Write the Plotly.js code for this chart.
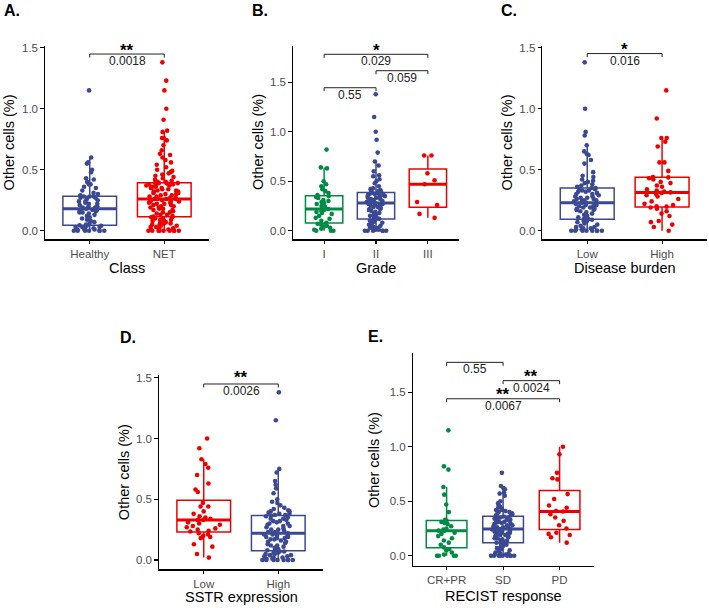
<!DOCTYPE html>
<html>
<head>
<meta charset="utf-8">
<script src="https://cdn.plot.ly/plotly-3.0.1.min.js"></script>
<style>
  html, body { margin: 0; padding: 0; background: #fff; }
  #chart { width: 709px; height: 608px; }
</style>
</head>
<body>
<div id="chart"></div>
<script>
// ---- category labels ----
const classCats = ['Healthy', 'NET'];
const gradeCats = ['I', 'II', 'III'];
const burdenCats = ['Low', 'High'];
const sstrCats = ['Low', 'High'];
const recistCats = ['CR+PR', 'SD', 'PD'];

// ---- y tick labels ----
const yTickVals = [0, 0.5, 1.0, 1.5];
const yTickText = ['0.0', '0.5', '1.0', '1.5'];

// ---- Other cells (%) per group ----
const healthy = [0,0,0,0,0,0,0,0.01,0.01,0.01,0.02,0.02,0.03,0.03,0.03,0.04,0.04,0.045,
  0.05,0.06,0.07,0.08,0.09,0.10,0.11,0.12,0.13,0.14,0.15,0.15,0.16,0.16,0.17,0.17,0.18,
  0.19,0.19,0.20,0.20,0.21,0.22,0.22,0.23,0.24,0.24,0.25,0.26,0.27,0.27,0.28,0.28,0.28,
  0.29,0.30,0.31,0.33,0.35,0.36,0.38,0.38,0.40,0.42,0.43,0.48,0.50,0.55,0.56,0.60,1.15];
const net = [0,0,0,0,0,0,0,0,0,0.01,0.01,0.02,0.02,0.03,0.03,0.04,0.04,0.05,0.05,0.06,0.06,
  0.07,0.07,0.08,0.08,0.09,0.09,0.10,0.10,0.11,0.11,0.115,
  0.12,0.13,0.13,0.14,0.15,0.15,0.16,0.17,0.17,0.18,0.18,0.19,0.19,0.20,0.20,0.21,0.21,
  0.22,0.22,0.23,0.23,0.24,0.24,0.24,0.25,0.25,0.25,0.26,0.26,0.26,0.26,
  0.27,0.27,0.28,0.28,0.29,0.29,0.30,0.30,0.31,0.31,0.32,0.32,0.33,0.33,0.34,0.34,0.35,
  0.35,0.35,0.36,0.36,0.37,0.37,0.37,0.38,0.38,0.38,0.39,0.39,0.39,0.39,
  0.40,0.40,0.41,0.42,0.43,0.44,0.45,0.46,0.47,0.48,0.49,0.50,0.52,0.54,0.56,0.58,0.60,
  0.62,0.63,0.66,0.70,0.74,0.76,0.76,0.81,0.82,0.91,1.00,1.15,1.23,1.38];

const gradeI = [0,0,0,0.01,0.02,0.03,0.04,0.05,0.06,0.07,0.08,
  0.10,0.12,0.13,0.15,0.17,0.18,0.19,0.20,0.21,0.22,
  0.24,0.25,0.27,0.28,0.29,0.30,0.31,0.33,0.34,0.35,
  0.36,0.38,0.40,0.42,0.45,0.47,0.50,0.63,0.64,0.82];
const gradeII = [0,0,0,0,0,0,0.01,0.01,0.02,0.03,0.03,0.04,0.05,0.06,0.07,0.08,0.09,0.10,0.11,0.115,0.12,
  0.13,0.14,0.15,0.16,0.17,0.18,0.19,0.20,0.21,0.22,0.22,0.23,0.24,0.24,0.25,0.26,0.26,0.27,0.27,0.28,
  0.28,0.29,0.29,0.30,0.30,0.31,0.31,0.32,0.32,0.33,0.34,0.34,0.35,0.35,0.36,0.36,0.37,0.37,0.38,0.385,
  0.39,0.40,0.40,0.41,0.42,0.43,0.45,0.48,0.50,0.52,0.55,0.56,0.60,0.66,0.70,0.79,0.92,1.00,1.15,1.38];
const gradeIII = [0.13,0.17,0.26,0.29,0.47,0.51,0.58,0.76,0.76];

const burdenLow = [0,0,0,0,0,0,0,0,0.01,0.01,0.02,0.02,0.03,0.03,0.04,0.05,0.06,0.07,0.08,0.08,0.09,0.096,
  0.10,0.11,0.12,0.13,0.14,0.15,0.16,0.17,0.17,0.18,0.18,0.19,0.19,0.20,0.20,0.21,0.21,0.22,0.22,0.23,0.23,
  0.24,0.24,0.25,0.25,0.26,0.26,0.27,0.27,0.28,0.28,0.29,0.30,0.30,0.31,0.32,0.32,0.33,0.33,0.34,0.34,0.35,
  0.35,0.36,0.37,0.38,0.39,0.40,0.41,0.42,0.44,0.45,0.48,0.55,0.58,0.62,0.63,0.65,0.70,0.78,0.81,1.00,1.38];
const burdenHigh = [0,0.03,0.05,0.07,0.08,0.12,0.14,0.16,0.18,0.19,0.197,
  0.20,0.21,0.22,0.24,0.26,0.28,0.29,0.30,0.31,0.314,
  0.32,0.33,0.34,0.36,0.37,0.39,0.40,0.42,0.43,0.437,
  0.44,0.49,0.56,0.56,0.69,0.73,0.76,0.76,0.92,1.15];

const sstrLow = [0.02,0.05,0.11,0.13,0.18,0.19,0.20,0.21,0.22,0.235,
  0.24,0.25,0.26,0.27,0.28,0.29,0.30,0.31,0.33,
  0.33,0.34,0.35,0.36,0.38,0.40,0.44,0.44,0.47,
  0.56,0.58,0.63,0.70,0.76,0.79,0.83,0.92,1.00];
const sstrHigh = [0,0,0,0,0,0,0,0,0.01,0.01,0.02,0.02,0.03,0.03,0.04,0.04,0.05,0.05,0.06,0.06,0.07,0.07,0.077,
  0.08,0.09,0.10,0.11,0.12,0.12,0.13,0.14,0.15,0.15,0.16,0.17,0.17,0.18,0.18,0.19,0.19,0.20,0.20,0.21,0.21,0.22,
  0.22,0.23,0.23,0.24,0.25,0.25,0.26,0.27,0.28,0.28,0.29,0.30,0.30,0.31,0.32,0.32,0.33,0.34,0.34,0.35,0.36,0.365,
  0.37,0.37,0.38,0.38,0.39,0.40,0.40,0.41,0.42,0.43,0.45,0.47,0.48,0.50,0.55,0.59,0.62,0.65,0.72,0.75,1.15,1.38];

const recistCRPR = [0,0,0,0,0.01,0.03,0.05,0.06,0.076,
  0.10,0.12,0.14,0.16,0.18,0.20,0.21,0.229,
  0.23,0.24,0.25,0.27,0.29,0.30,0.31,0.32,
  0.33,0.40,0.47,0.56,0.63,0.79,0.82,1.15];
const recistSD = [0,0,0,0,0,0,0,0,0,0.01,0.01,0.02,0.02,0.03,0.04,0.05,0.06,0.07,0.08,0.09,0.10,0.11,0.115,0.12,
  0.13,0.14,0.14,0.15,0.16,0.16,0.17,0.18,0.18,0.19,0.19,0.20,0.20,0.21,0.21,0.22,0.22,0.23,0.23,0.24,0.24,0.245,0.245,
  0.25,0.25,0.26,0.26,0.27,0.27,0.28,0.28,0.29,0.29,0.30,0.30,0.31,0.31,0.32,0.32,0.33,0.33,0.34,0.34,0.35,0.35,0.36,
  0.37,0.37,0.38,0.38,0.39,0.40,0.40,0.41,0.42,0.42,0.43,0.44,0.45,0.46,0.48,0.50,0.55,0.57,0.58,0.61,0.62,0.64,0.76];
const recistPD = [0.12,0.17,0.19,0.20,0.21,0.25,
  0.28,0.32,0.35,0.38,0.405,
  0.41,0.44,0.46,0.52,0.565,
  0.70,0.71,0.76,0.93,1.00];

// ---- pairwise comparisons: [group a, group b, bracket height, p value, stars] ----
const compA = [[0, 1, 1.448, '0.0018', '**']];
const compB = [[0, 2, 1.784, '0.029', '*'], [1, 2, 1.618, '0.059', ''], [0, 1, 1.446, '0.55', '']];
const compC = [[0, 1, 1.452, '0.016', '*']];
const compD = [[0, 1, 1.449, '0.0026', '**']];
const compE = [[0, 1, 1.774, '0.55', ''], [1, 2, 1.606, '0.0024', '**'], [0, 2, 1.44, '0.0067', '**']];

// ---- styling ----
const BLUE = '#3B4992', RED = '#EE0000', GREEN = '#008B45';
const FONT = 'Liberation Sans, Arial, Helvetica, sans-serif';
const W = 709, H = 608;
const fx = p => p / W;
const fy = p => 1 - p / H;

// panel frames in pixels: [left, right, top, bottom] plus y range
const panels = [
  { label: 'A.', cats: classCats, groups: [healthy, net], colors: [BLUE, RED],
    box: [45, 209, 45.5, 239.3], yr: [-0.0705, 1.518], xtitle: 'Class', comps: compA,
    letter: [2, 10.5], ytitleX: 9, xtitleY: 268, starShift: 4 },
  { label: 'B.', cats: gradeCats, groups: [gradeI, gradeII, gradeIII], colors: [GREEN, BLUE, RED],
    box: [293, 459, 45.5, 239.3], yr: [-0.087, 1.873], xtitle: 'Grade', comps: compB,
    letter: [250, 10.5], ytitleX: 258.5, xtitleY: 268, starShift: 4 },
  { label: 'C.', cats: burdenCats, groups: [burdenLow, burdenHigh], colors: [BLUE, RED],
    box: [542.3, 707, 45.5, 239.3], yr: [-0.0705, 1.518], xtitle: 'Disease burden', comps: compC,
    letter: [499, 10.5], ytitleX: 507, xtitleY: 268, starShift: 4 },
  { label: 'D.', cats: sstrCats, groups: [sstrLow, sstrHigh], colors: [RED, BLUE],
    box: [159, 323, 375, 569.3], yr: [-0.0765, 1.523], xtitle: 'SSTR expression', comps: compD,
    letter: [118, 337], ytitleX: 124, xtitleY: 597, starShift: 6.5 },
  { label: 'E.', cats: recistCats, groups: [recistCRPR, recistSD, recistPD], colors: [GREEN, BLUE, RED],
    box: [412.7, 593.5, 353.3, 565.7], yr: [-0.0917, 1.857], xtitle: 'RECIST response', comps: compE,
    letter: [366, 336.5], ytitleX: 373.5, xtitleY: 596, starShift: 4 }
];

function quantile(arr, q) {
  const s = arr.slice().sort((a, b) => a - b);
  const pos = (s.length - 1) * q, lo = Math.floor(pos), hi = Math.ceil(pos);
  return s[lo] + (s[hi] - s[lo]) * (pos - lo);
}

const traces = [];
const shapes = [];
const annotations = [];
const layout = {
  width: W, height: H,
  margin: { l: 0, r: 0, t: 0, b: 0 },
  paper_bgcolor: '#fff', plot_bgcolor: '#fff',
  showlegend: false,
  boxmode: 'overlay',
  font: { family: FONT, color: '#000' }
};

const BOXW = 0.72;

panels.forEach((p, k) => {
  const n = k + 1;
  const xa = n === 1 ? 'x' : 'x' + n;
  const ya = n === 1 ? 'y' : 'y' + n;
  const [l, r, t, b] = p.box;

  layout[n === 1 ? 'xaxis' : 'xaxis' + n] = {
    domain: [fx(l), fx(r)], anchor: ya,
    type: 'category', categoryorder: 'array', categoryarray: p.cats,
    range: [-0.6, p.cats.length - 0.4],
    showline: true, linecolor: '#000', linewidth: 1.2,
    ticks: 'outside', ticklen: 3.5, tickwidth: 1.1, tickcolor: '#000',
    tickfont: { family: FONT, size: 11.5, color: '#4D4D4D' },
    showgrid: false, zeroline: false, fixedrange: true
  };
  layout[n === 1 ? 'yaxis' : 'yaxis' + n] = {
    domain: [fy(b), fy(t)], anchor: xa,
    range: p.yr,
    tickvals: yTickVals, ticktext: yTickText,
    showline: true, linecolor: '#000', linewidth: 1.2,
    ticks: 'outside', ticklen: 3.5, tickwidth: 1.1, tickcolor: '#000',
    tickfont: { family: FONT, size: 11.5, color: '#4D4D4D' },
    showgrid: false, zeroline: false, fixedrange: true
  };

  // boxes with every sample jittered over them
  p.groups.forEach((vals, g) => {
    traces.push({
      type: 'box', xaxis: xa, yaxis: ya,
      x: vals.map(() => p.cats[g]), y: vals,
      width: BOXW,
      line: { color: p.colors[g], width: 1.5 },
      fillcolor: 'rgba(255,255,255,0)',
      whiskerwidth: 0,
      boxpoints: 'all', jitter: 0.7, pointpos: 0,
      marker: { color: p.colors[g], size: 4.6, opacity: 1, line: { width: 0 } },
      hoverinfo: 'skip'
    });
    // heavier median bar
    const med = quantile(vals, 0.5);
    shapes.push({
      type: 'line', xref: xa, yref: ya,
      x0: g - BOXW / 2, x1: g + BOXW / 2, y0: med, y1: med,
      line: { color: p.colors[g], width: 3 }, layer: 'above'
    });
  });

  // significance brackets
  const pxPerUnit = (b - t) / (p.yr[1] - p.yr[0]);
  const tick = 3.5 / pxPerUnit;
  p.comps.forEach(([a, c, y, pv, stars]) => {
    const ln = { color: '#222', width: 1 };
    shapes.push({ type: 'line', xref: xa, yref: ya, x0: a, x1: c, y0: y, y1: y, line: ln });
    shapes.push({ type: 'line', xref: xa, yref: ya, x0: a, x1: a, y0: y, y1: y - tick, line: ln });
    shapes.push({ type: 'line', xref: xa, yref: ya, x0: c, x1: c, y0: y, y1: y - tick, line: ln });
    annotations.push({
      xref: xa, yref: ya, x: (a + c) / 2, y: y, yshift: -7,
      text: pv, showarrow: false, xanchor: 'center', yanchor: 'middle',
      font: { family: FONT, size: 12, color: '#222' }
    });
    if (stars) {
      annotations.push({
        xref: xa, yref: ya, x: (a + c) / 2, y: y, yshift: p.starShift,
        text: '<b>' + stars + '</b>', showarrow: false, xanchor: 'center', yanchor: 'middle',
        font: { family: FONT, size: 17, color: '#000' }
      });
    }
  });

  // panel letter
  annotations.push({
    xref: 'paper', yref: 'paper', x: fx(p.letter[0]), y: fy(p.letter[1]),
    xanchor: 'left', yanchor: 'middle', showarrow: false,
    text: '<b>' + p.label + '</b>', font: { family: FONT, size: 16, color: '#000' }
  });
  // axis titles
  annotations.push({
    xref: 'paper', yref: 'paper', x: fx(p.ytitleX), y: fy((t + b) / 2),
    xanchor: 'center', yanchor: 'middle', showarrow: false, textangle: -90,
    text: 'Other cells (%)', font: { family: FONT, size: 14.5, color: '#000' }
  });
  annotations.push({
    xref: 'paper', yref: 'paper', x: fx((l + r) / 2), y: fy(p.xtitleY),
    xanchor: 'center', yanchor: 'middle', showarrow: false,
    text: p.xtitle, font: { family: FONT, size: 14.5, color: '#000' }
  });
});

layout.shapes = shapes;
layout.annotations = annotations;

Plotly.newPlot('chart', traces, layout, { displayModeBar: false, staticPlot: true });
</script>
</body>
</html>
